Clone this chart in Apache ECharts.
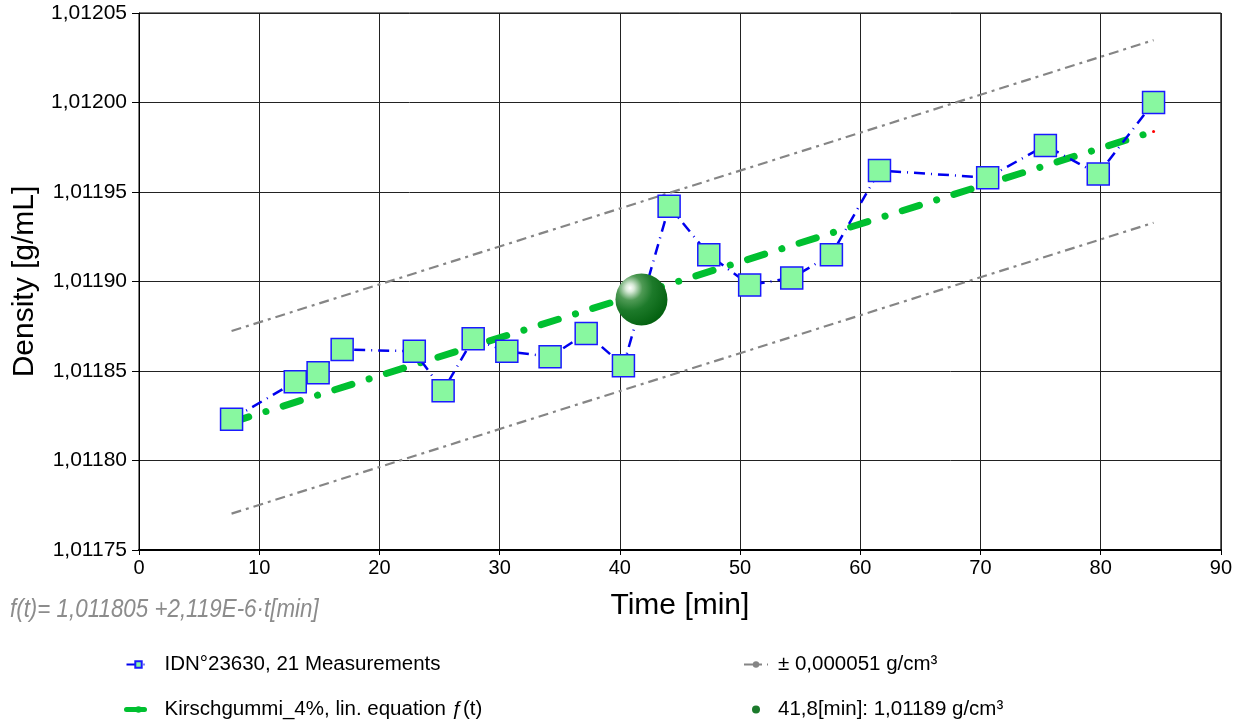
<!DOCTYPE html>
<html>
<head>
<meta charset="utf-8">
<script src="https://cdn.jsdelivr.net/npm/echarts@6/dist/echarts.min.js"></script>
<style>
  html, body { margin: 0; padding: 0; background: #fff; }
  #chart { width: 1235px; height: 723px; }
</style>
</head>
<body>
<div id="chart"></div>
<script>
const timeMin = [7.7, 13.0, 14.9, 16.9, 22.9, 25.3, 27.8, 30.6, 34.2, 37.2, 40.3,
                 44.1, 47.4, 50.8, 54.3, 57.6, 61.6, 70.6, 75.4, 79.8, 84.4];
const density = [1.011823, 1.011844, 1.011849, 1.011862, 1.011861, 1.011839, 1.011868,
                 1.011861, 1.011858, 1.011871, 1.011853, 1.011942, 1.011915, 1.011898,
                 1.011902, 1.011915, 1.011962, 1.011958, 1.011976, 1.011960, 1.012000];

// linear fit f(t) = a + b*t and tolerance band
const fitA = 1.011805;
const fitB = 2.119e-6;
const band = 0.000051;
const fitRange = [7.7, 84.4];

// highlighted point
const markT = 41.8;
const markD = 1.01189;

const names = {
  meas: 'IDN°23630, 21 Measurements',
  fit: 'Kirschgummi_4%, lin. equation \u0192(t)',
  band: '± 0,000051 g/cm³',
  mark: '41,8[min]: 1,01189 g/cm³'
};

const f = t => fitA + fitB * t;
const measData = timeMin.map((t, i) => [t, density[i]]);
const fitData = fitRange.map(t => [t, f(t)]);
fitData[1] = { value: fitData[1], symbol: 'circle', symbolSize: 3, itemStyle: { color: '#ff0000' } };
const upperData = fitRange.map(t => [t, f(t) + band]);
const lowerData = fitRange.map(t => [t, f(t) - band]);

const chart = echarts.init(document.getElementById('chart'));
const font = 'Liberation Sans, Arial, sans-serif';

chart.setOption({
  animation: false,
  textStyle: { fontFamily: font },
  grid: { left: 139, right: 13, top: 13, bottom: 173, show: true, borderColor: '#000', borderWidth: 1 },
  xAxis: {
    type: 'value', min: 0, max: 90, interval: 10,
    name: 'Time [min]', nameLocation: 'middle', nameGap: 41,
    nameTextStyle: { fontSize: 30, color: '#000', fontFamily: font },
    axisLine: { onZero: false, lineStyle: { color: '#000', width: 2 } },
    axisTick: { show: true, length: 5, lineStyle: { color: '#000' } },
    axisLabel: { fontSize: 20, color: '#000', margin: 8 },
    splitLine: { lineStyle: { color: '#222', width: 1 } }
  },
  yAxis: {
    type: 'value', min: 1.01175, max: 1.01205, interval: 0.00005,
    name: 'Density [g/mL]', nameLocation: 'middle', nameGap: 94, nameRotate: 90,
    nameTextStyle: { fontSize: 30, color: '#000', fontFamily: font },
    axisLine: { show: true, lineStyle: { color: '#000' } },
    axisTick: { show: true, length: 7, lineStyle: { color: '#000' } },
    axisLabel: {
      fontSize: 21, color: '#000', margin: 12,
      formatter: v => v.toFixed(5).replace('.', ',')
    },
    splitLine: { lineStyle: { color: '#222', width: 1 } }
  },
  legend: [
    {
      orient: 'vertical', left: 124, top: 654, itemGap: 24, padding: 0,
      itemWidth: 24, itemHeight: 8,
      textStyle: { fontSize: 20.5, color: '#000', padding: [0, 0, 0, 9] },
      data: [names.meas, { name: names.fit, lineStyle: { width: 5 } }]
    },
    {
      orient: 'vertical', left: 743, top: 654, itemGap: 24, padding: 0,
      itemWidth: 24, itemHeight: 8,
      textStyle: { fontSize: 20.5, color: '#000', padding: [0, 0, 0, 5] },
      data: [names.band,
             { name: names.mark, icon: 'circle', itemStyle: { color: '#1b7a2b' } }]
    }
  ],
  graphic: [{
    type: 'text', left: 10, top: 597, scaleX: 0.86,
    style: {
      text: 'f(t)= 1,011805 +2,119E-6\u00b7t[min]',
      font: 'italic 26px "Liberation Sans", Arial, sans-serif',
      fill: '#8c8c8c'
    }
  }],
  series: [
    {
      name: names.band, type: 'line', data: upperData, symbol: 'none', z: 2,
      lineStyle: { color: '#858585', width: 2.2, type: [10, 5, 3, 5] },
      itemStyle: { color: '#858585' }
    },
    {
      name: names.band, type: 'line', data: lowerData, symbol: 'none', z: 2,
      lineStyle: { color: '#858585', width: 2.2, type: [10, 5, 3, 5] },
      itemStyle: { color: '#858585' }
    },
    {
      name: names.fit, type: 'line', data: fitData, symbol: 'none', z: 3,
      lineStyle: { color: '#00c030', width: 7, type: [18, 18, 0.1, 18], cap: 'round' },
      itemStyle: { color: '#00c030' }
    },
    {
      name: names.meas, type: 'line', data: measData, z: 4,
      symbol: 'rect', symbolSize: 22,
      lineStyle: { color: '#0000ee', width: 2.5, type: [11, 6, 1, 6] },
      itemStyle: { color: '#88f8a0', borderColor: '#1a1aff', borderWidth: 1.5 }
    },
    {
      name: names.mark, type: 'scatter', data: [[markT, markD]], z: 5,
      symbolSize: 52,
      itemStyle: {
        opacity: 1,
        color: new echarts.graphic.RadialGradient(0.28, 0.28, 0.8, [
          { offset: 0, color: '#ffffff' },
          { offset: 0.1, color: '#d8ead8' },
          { offset: 0.3, color: '#4f9a55' },
          { offset: 0.55, color: '#1d7a2a' },
          { offset: 1, color: '#03600f' }
        ])
      }
    }
  ]
});
</script>
</body>
</html>
